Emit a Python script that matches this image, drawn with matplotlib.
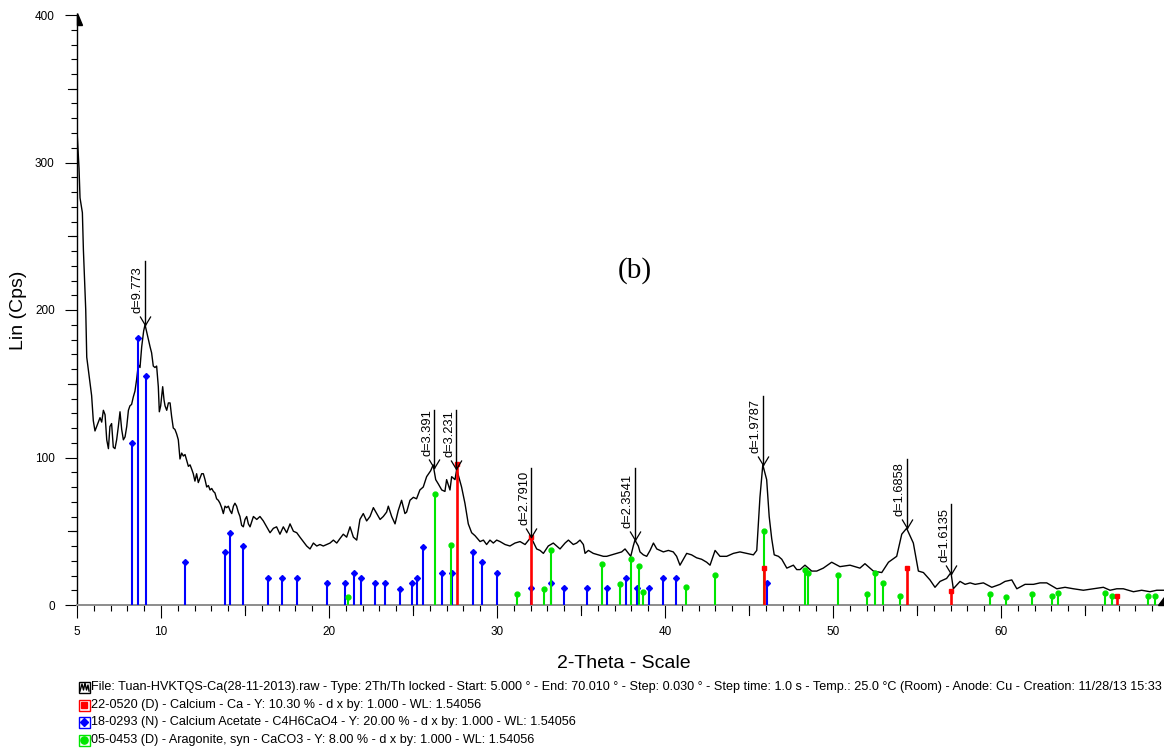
import numpy as np
import matplotlib
matplotlib.use("Agg")
import matplotlib.pyplot as plt
from matplotlib.ticker import MultipleLocator, FixedLocator
from matplotlib.patches import Rectangle, Polygon
from matplotlib.lines import Line2D
from matplotlib.path import Path
import matplotlib.transforms as mtransforms

plt.rcParams['font.family'] = ['Liberation Sans', 'DejaVu Sans']

# measured pattern (2-theta, Lin counts)
two_theta = [5.00, 5.12, 5.18, 5.32, 5.38, 5.52, 5.58, 5.77, 5.87, 5.97, 6.07, 6.17, 6.27, 6.37,
             6.47, 6.57, 6.67, 6.77, 6.87, 6.96, 7.06, 7.16, 7.26, 7.36, 7.46, 7.56, 7.66, 7.76,
             7.86, 7.96, 8.06, 8.15, 8.25, 8.35, 8.45, 8.55, 8.65, 8.75, 8.85, 8.97, 9.05, 9.13,
             9.25, 9.35, 9.44, 9.54, 9.64, 9.74, 9.84, 9.90, 9.98, 10.10, 10.18, 10.24, 10.34,
             10.44, 10.54, 10.63, 10.73, 10.83, 10.93, 11.03, 11.13, 11.23, 11.33, 11.43, 11.53,
             11.63, 11.73, 11.83, 11.92, 12.02, 12.12, 12.22, 12.32, 12.42, 12.52, 12.62, 12.72,
             12.82, 12.92, 13.02, 13.12, 13.21, 13.31, 13.41, 13.51, 13.61, 13.71, 13.81, 13.91,
             14.01, 14.11, 14.21, 14.31, 14.40, 14.50, 14.60, 14.70, 14.80, 14.90, 15.00, 15.10,
             15.20, 15.30, 15.50, 15.70, 15.89, 16.09, 16.29, 16.49, 16.69, 16.88, 17.08, 17.28,
             17.48, 17.68, 17.88, 18.08, 18.27, 18.47, 18.67, 18.87, 19.07, 19.27, 19.46, 19.66,
             19.86, 20.06, 20.26, 20.46, 20.65, 20.85, 21.05, 21.25, 21.45, 21.65, 21.84, 22.04,
             22.24, 22.44, 22.64, 22.84, 23.04, 23.23, 23.43, 23.53, 23.73, 23.93, 24.12, 24.32,
             24.52, 24.62, 24.82, 25.02, 25.21, 25.41, 25.61, 25.81, 26.05, 26.20, 26.35, 26.51,
             26.71, 26.90, 27.00, 27.20, 27.30, 27.50, 27.60, 27.89, 28.09, 28.29, 28.49, 28.69,
             28.99, 29.19, 29.38, 29.58, 29.78, 29.98, 30.18, 30.48, 30.77, 31.07, 31.37, 31.67,
             32.02, 32.36, 32.56, 32.76, 33.05, 33.35, 33.55, 33.75, 34.05, 34.25, 34.54, 34.74,
             34.94, 35.14, 35.24, 35.44, 35.73, 36.03, 36.33, 36.53, 36.82, 37.12, 37.42, 37.62,
             37.82, 37.96, 38.11, 38.21, 38.41, 38.51, 38.71, 38.91, 39.11, 39.31, 39.51, 39.70,
             39.90, 40.20, 40.49, 40.69, 40.89, 41.09, 41.29, 41.58, 41.88, 42.18, 42.48, 42.68,
             42.98, 43.27, 43.67, 44.07, 44.46, 44.86, 45.26, 45.46, 45.65, 45.82, 46.05, 46.20,
             46.35, 46.50, 46.75, 46.95, 47.25, 47.44, 47.64, 47.84, 48.04, 48.33, 48.73, 49.03,
             49.42, 49.92, 50.41, 51.01, 51.60, 51.90, 52.40, 52.90, 53.30, 53.79, 54.09, 54.38,
             54.78, 55.08, 55.38, 55.77, 56.07, 56.37, 56.76, 57.02, 57.16, 57.56, 57.86, 58.16,
             58.46, 58.95, 59.45, 59.94, 60.24, 60.64, 60.94, 61.43, 61.93, 62.32, 62.72, 63.32,
             63.81, 64.31, 64.90, 65.50, 66.09, 66.49, 66.89, 67.28, 67.88, 68.37, 68.87, 69.27,
             69.70]
counts = [322, 296, 276, 266, 241, 200, 168, 151, 142, 125, 118, 121, 124, 127,
          124, 132, 129, 112, 106, 121, 123, 107, 106, 112, 121, 131, 119, 112,
          114, 121, 132, 135, 136, 141, 145, 153, 163, 161, 175, 186, 190, 186,
          180, 175, 171, 162, 161, 162, 148, 131, 135, 148, 139, 135, 132,
          137, 137, 128, 120, 119, 116, 112, 99, 103, 101, 102, 98,
          94, 95, 92, 89, 84, 89, 83, 86, 89, 89, 85, 80,
          81, 78, 79, 77, 76, 72, 71, 69, 66, 62, 67, 66,
          67, 64, 62, 67, 69, 67, 63, 60, 54, 53, 58, 60,
          55, 53, 60, 58, 60, 57, 53, 49, 52, 53, 48, 53,
          49, 55, 50, 49, 46, 43, 40, 38, 42, 40, 41, 40,
          41, 42, 44, 42, 45, 48, 46, 53, 46, 44, 58, 62,
          57, 60, 66, 62, 58, 60, 63, 67, 60, 55, 64, 71,
          62, 63, 71, 73, 72, 78, 80, 87, 91, 95, 85, 82,
          78, 77, 85, 78, 87, 85, 92, 80, 69, 55, 49, 47,
          43, 44, 41, 44, 42, 44, 43, 41, 40, 42, 43, 41,
          46, 38, 37, 35, 40, 42, 40, 38, 42, 44, 41, 42,
          44, 41, 35, 37, 35, 34, 33, 33, 34, 35, 36, 38,
          35, 33, 40, 44, 40, 36, 34, 33, 37, 42, 38, 37,
          36, 37, 36, 33, 27, 31, 35, 34, 32, 31, 29, 27,
          37, 33, 33, 35, 36, 35, 34, 37, 73, 95, 85, 60,
          45, 34, 33, 31, 25, 26, 27, 24, 24, 27, 23, 23,
          25, 29, 26, 27, 25, 28, 23, 22, 29, 33, 48, 52,
          42, 23, 22, 17, 12, 16, 18, 22, 11, 16, 14, 15,
          14, 15, 12, 14, 16, 17, 11, 14, 14, 15, 15, 11,
          12, 11, 10, 11, 12, 10, 11, 11, 9, 10, 9, 10,
          10]

# reference patterns (stick positions and heights)
ca_pos = [27.63, 32.01, 45.90, 54.41, 57.05, 66.93]
ca_int = [95.6, 46, 25, 25, 9.5, 6.1]

acetate_pos = [8.26, 8.65, 9.09, 11.41, 13.81, 14.11, 14.88, 16.34, 17.18, 18.10, 19.90, 20.95,
               21.47, 21.89, 22.74, 23.32, 24.23, 24.96, 25.26, 25.61, 26.73, 27.32, 28.55,
               29.11, 30.00, 32.01, 33.21, 34.01, 35.36, 36.55, 37.68, 38.32, 39.03, 39.90,
               40.64, 46.09]
acetate_int = [110, 181, 155, 29, 36, 49, 40, 18.5, 18.5, 18.5, 15, 15,
               22, 18.5, 15, 15, 11, 15, 18.5, 39.5, 22, 22, 36,
               29, 22, 11.5, 15, 11.5, 11.5, 11.5, 18.5, 11.5, 11.5, 18.5,
               18.5, 15]

aragonite_pos = [21.15, 26.29, 27.26, 31.17, 32.82, 33.21, 36.23, 37.32, 37.96, 38.47, 38.67,
                 41.27, 42.98, 45.91, 48.33, 48.49, 50.28, 52.01, 52.50, 52.96, 53.99, 59.35,
                 60.28, 61.86, 63.02, 63.41, 66.21, 66.59, 68.75, 69.15]
aragonite_int = [5.6, 75, 41, 7.5, 10.6, 37, 27.5, 14, 31, 26.5, 8.6,
                 12, 20.5, 50, 23.7, 22, 20.3, 7.2, 22, 14.7, 6.1, 7.5,
                 5.4, 7.5, 6.3, 8.1, 8.1, 6.3, 6.3, 6.3]

# peak labels
d_values = [9.773, 3.391, 3.231, 2.7910, 2.3541, 1.9787, 1.6858, 1.6135]
d_labels = ["d=9.773", "d=3.391", "d=3.231", "d=2.7910", "d=2.3541", "d=1.9787", "d=1.6858", "d=1.6135"]
d_peak_int = [190, 93, 92, 46, 44, 95, 52, 21]
d_line_top = [233, 132, 132, 93, 93, 142, 99, 68.5]

wavelength = 1.54056

legend_lines = [
    "File: Tuan-HVKTQS-Ca(28-11-2013).raw - Type: 2Th/Th locked - Start: 5.000 \u00b0 - End: 70.010 \u00b0 - "
    "Step: 0.030 \u00b0 - Step time: 1.0 s - Temp.: 25.0 \u00b0C (Room) - Anode: Cu - Creation: 11/28/13 15:33",
    "22-0520 (D) - Calcium - Ca - Y: 10.30 % - d x by: 1.000 - WL: 1.54056",
    "18-0293 (N) - Calcium Acetate - C4H6CaO4 - Y: 20.00 % - d x by: 1.000 - WL: 1.54056",
    "05-0453 (D) - Aragonite, syn - CaCO3 - Y: 8.00 % - d x by: 1.000 - WL: 1.54056",
]

W, H = 1164, 749
fig = plt.figure(figsize=(W / 100, H / 100), dpi=100)
ax = fig.add_axes([77 / W, 144 / H, 1 - 77 / W, 590 / H])


def fpx(x, y):
    # pixel (from top-left) to figure fraction
    return x / W, 1 - y / H


RED = '#ff0000'
BLUE = '#0000ff'
GREEN = '#00e600'

ax.plot(two_theta, counts, color='black', lw=1.0, zorder=3)

ax.vlines(acetate_pos, 0, acetate_int, colors=BLUE, lw=1.5, zorder=4)
ax.plot(acetate_pos, acetate_int, ls='none', marker='D', ms=3, color=BLUE, zorder=4)
ax.vlines(aragonite_pos, 0, aragonite_int, colors=GREEN, lw=1.5, zorder=4)
ax.plot(aragonite_pos, aragonite_int, ls='none', marker='o', ms=3.5, color=GREEN, zorder=4)
ax.vlines(ca_pos, 0, ca_int, colors=RED, lw=1.9, zorder=5)
ax.plot(ca_pos, ca_int, ls='none', marker='s', ms=3.5, color=RED, zorder=5)

# peak markers
v_marker = Path([(-0.6, 1.0), (0.0, 0.0), (0.6, 1.0)], [Path.MOVETO, Path.LINETO, Path.LINETO])
for d, lab, yp, yt in zip(d_values, d_labels, d_peak_int, d_line_top):
    tt = np.degrees(2 * np.arcsin(wavelength / (2 * d)))
    ax.plot([tt, tt], [yp, yt], color='black', lw=1.0, zorder=6)
    ax.plot([tt], [yp], marker=v_marker, ms=13, mfc='none', mec='black', mew=0.9, zorder=6)
    ax.annotate(lab, xy=(tt, yp), xytext=(-1, 12), textcoords='offset pixels',
                rotation=90, ha='right', va='bottom', fontsize=9.3, zorder=6)

ax.text(38.2, 227, "(b)", fontsize=21, family=['Liberation Serif', 'DejaVu Serif'],
        ha='center', va='center')

ax.set_xlim(5, 69.7)
ax.set_ylim(0, 400)

for s in ['top', 'right']:
    ax.spines[s].set_visible(False)
ax.spines['left'].set_color('black')
ax.spines['left'].set_linewidth(1.0)
ax.spines['bottom'].set_color('#8c8c8c')
ax.spines['bottom'].set_linewidth(1.4)

ax.xaxis.set_major_locator(FixedLocator([5, 10, 20, 30, 40, 50, 60]))
ax.xaxis.set_minor_locator(MultipleLocator(1))
ax.yaxis.set_major_locator(MultipleLocator(100))
ax.yaxis.set_minor_locator(MultipleLocator(10))
ax.tick_params(which='major', direction='out', length=9, width=0.8, labelsize=8.5, color='black')
ax.tick_params(which='minor', direction='out', length=4.3, width=0.8, color='black')
ax.tick_params(axis='x', which='major', pad=6)
ax.tick_params(axis='y', which='major', pad=7)

# medium ticks at the fives
tx = mtransforms.blended_transform_factory(ax.transData, ax.transAxes)
for v in range(15, 70, 10):
    ax.plot([v, v], [0, -10 / 590], transform=tx, color='black', lw=0.8, clip_on=False)
ty = mtransforms.blended_transform_factory(ax.transAxes, ax.transData)
for v in range(50, 400, 100):
    ax.plot([0, -9 / 1087], [v, v], transform=ty, color='black', lw=0.8, clip_on=False)

# axis end arrows
ax.add_patch(Polygon([(0, 1 + 2 / 590), (0, 1 - 10 / 590), (5 / 1087, 1 - 10 / 590)],
                     closed=True, transform=ax.transAxes, color='black', clip_on=False, zorder=7))
ax.add_patch(Polygon([(1 - 6 / 1087, 0), (1, 0), (1, 8 / 590)],
                     closed=True, transform=ax.transAxes, color='black', clip_on=False, zorder=7))

ax.set_xlabel("2-Theta - Scale", fontsize=14)
ax.xaxis.set_label_coords(0.503, -0.084)
ax.xaxis.label.set_va('top')
ax.set_ylabel("Lin (Cps)", fontsize=14)
ax.yaxis.set_label_coords(-0.046, 0.5)

# legend block below the plot
line_y = [687, 705, 722, 740]
for txt, yy in zip(legend_lines, line_y):
    fig.text(*fpx(91, yy), txt, fontsize=9.1, va='center', ha='left')

box = 11
edge_cols = ['black', RED, BLUE, GREEN]
for col, yy in zip(edge_cols, line_y):
    x0, y0 = fpx(78.5, yy + box / 2)
    fig.add_artist(Rectangle((x0, y0), box / W, box / H, transform=fig.transFigure,
                             fill=False, ec=col, lw=1.0))
# icon contents
zx = [80, 82, 83.5, 85, 86.5, 88, 89]
zy = [line_y[0] + 4, line_y[0] - 3, line_y[0] + 3, line_y[0] - 4, line_y[0] + 3, line_y[0] - 2, line_y[0] + 4]
fig.add_artist(Line2D([x / W for x in zx], [1 - y / H for y in zy], transform=fig.transFigure,
                      color='black', lw=1.0))
for col, mk, ms, yy in zip([RED, BLUE, GREEN], ['s', 'D', 'o'], [5, 4.3, 5.2], line_y[1:]):
    cx, cy = fpx(84, yy)
    fig.add_artist(Line2D([cx], [cy], transform=fig.transFigure, marker=mk, ms=ms,
                          color=col, ls='none'))

fig.savefig("out.png", dpi=100)
